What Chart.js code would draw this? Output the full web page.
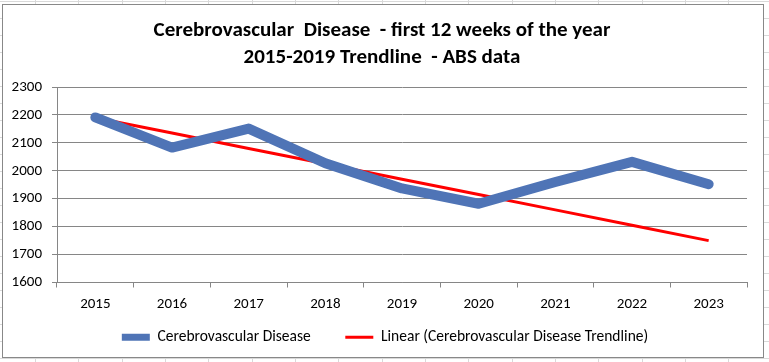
<!DOCTYPE html>
<html>
<head>
<meta charset="utf-8">
<script src="https://cdn.jsdelivr.net/npm/chart.js@4/dist/chart.umd.min.js"></script>
<style>
    html, body {
        margin: 0;
        padding: 0;
    }
    body {
        width: 769px;
        height: 362px;
        position: relative;
        overflow: hidden;
        background-color: #fff;
        background-image:
            repeating-linear-gradient(to right, transparent 0, transparent 35px, #d9d9d9 35px, #d9d9d9 36px, transparent 36px, transparent 43.33px),
            repeating-linear-gradient(to bottom, transparent 0, transparent 1px, #d9d9d9 1px, #d9d9d9 2px, transparent 2px, transparent 17px);
    }
    #box {
        position: absolute;
        left: 2px;
        top: 4px;
        width: 760px;
        height: 352px;
        border: 1px solid #888;
        background: #fff;
    }
</style>
</head>
<body>
<div id="box"><canvas id="chart" width="760" height="352"></canvas></div>
<script>
// values
const years = ["2015", "2016", "2017", "2018", "2019", "2020", "2021", "2022", "2023"];
const deaths = [2191, 2083, 2151, 2027, 1937, 1882, 1960, 2032, 1952];
const trend = [2190, 2135, 2080, 2025, 1970, 1915, 1860, 1805, 1750];

const font = "Calibri, Carlito, 'Liberation Sans Narrow', 'DejaVu Sans Condensed', sans-serif";
const gridGray = "#868686";
const legendLineWidths = [7, 3];

// Excel centres title and legend on the whole chart box, not the padded one
const boxShift = {
    id: "boxShift",
    afterLayout(chart) {
        chart.legend.left += 10;
        chart.legend.right += 10;
        chart.titleBlock.left += 7;
        chart.titleBlock.right += 7;
    },
};

const ctx = document.getElementById("chart").getContext("2d");
new Chart(ctx, {
    type: "line",
    data: {
        labels: years,
        datasets: [
            {
                label: "Cerebrovascular Disease       ",
                data: deaths,
                borderColor: "#4f74b6",
                backgroundColor: "#4f74b6",
                borderWidth: 10,
                borderCapStyle: "round",
                borderJoinStyle: "round",
                pointRadius: 0,
                tension: 0,
            },
            {
                label: "Linear (Cerebrovascular Disease Trendline)",
                data: trend,
                borderColor: "#ff0000",
                backgroundColor: "#ff0000",
                borderWidth: 3,
                pointRadius: 0,
                tension: 0,
            },
        ],
    },
    plugins: [boxShift],
    options: {
        responsive: false,
        animation: false,
        layout: {
            padding: { left: 0, right: 16, top: 0, bottom: 2 },
        },
        plugins: {
            title: {
                display: true,
                text: [
                    "Cerebrovascular  Disease  - first 12 weeks of the year",
                    "2015-2019 Trendline  - ABS data",
                ],
                color: "#000",
                font: { family: font, size: 21, weight: "bold", lineHeight: 1.286 },
                padding: { top: 12, bottom: 16 },
            },
            legend: {
                position: "bottom",
                labels: {
                    color: "#000",
                    font: { family: font, size: 15.5 },
                    usePointStyle: true,
                    pointStyle: "line",
                    pointStyleWidth: 28,
                    padding: 10,
                    generateLabels: (chart) => {
                        const items = Chart.defaults.plugins.legend.labels.generateLabels(chart);
                        items.forEach((item, i) => {
                            item.lineWidth = legendLineWidths[i];
                        });
                        return items;
                    },
                },
            },
            tooltip: { enabled: false },
        },
        scales: {
            x: {
                offset: true,
                grid: {
                    offset: true,
                    drawOnChartArea: false,
                    drawTicks: true,
                    tickLength: 5,
                    color: gridGray,
                },
                border: { color: gridGray },
                ticks: {
                    color: "#000",
                    font: { family: font, size: 15 },
                    padding: 8,
                    maxRotation: 0,
                },
                afterFit: (scale) => {
                    scale.height = 37;
                },
            },
            y: {
                min: 1600,
                max: 2300,
                grid: {
                    color: gridGray,
                    tickLength: 5,
                },
                border: { color: gridGray },
                ticks: {
                    stepSize: 100,
                    color: "#000",
                    font: { family: font, size: 15 },
                    padding: 10,
                    callback: (value) => String(value),
                },
                afterFit: (scale) => {
                    scale.width = 54;
                },
            },
        },
    },
});
</script>
</body>
</html>
